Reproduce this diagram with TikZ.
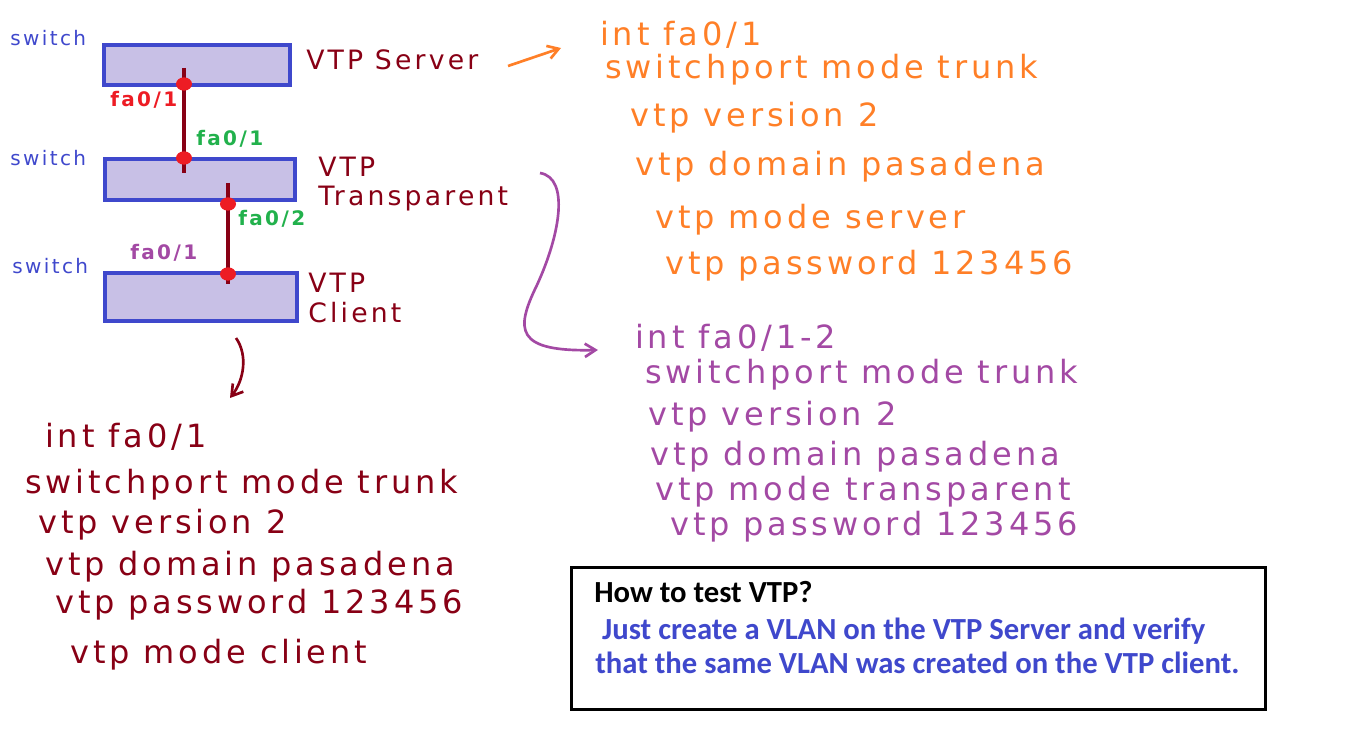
\documentclass[tikz,border=0pt]{standalone}
\usepackage{fontspec}
\usepackage{tikz}
\usetikzlibrary{positioning, arrows.meta, shapes.geometric}
\newfontfamily\hand[LetterSpace=12]{DejaVu Sans}
\newfontfamily\calib{Carlito}
\definecolor{swblue}{HTML}{3F48CC}
\definecolor{swfill}{HTML}{C8C0E6}
\definecolor{wire}{HTML}{880015}
\definecolor{port}{HTML}{ED1C24}
\definecolor{portg}{HTML}{22B14C}
\definecolor{srvc}{HTML}{FF7F27}
\definecolor{trpc}{HTML}{A349A4}
\definecolor{notec}{HTML}{3F48CC}

\begin{document}
\begin{tikzpicture}[x=0.75pt, y=-0.75pt,
    every node/.style={inner sep=0pt},
    swbox/.style={draw=swblue, fill=swfill, line width=3pt},
    swlbl/.style={font=\hand\fontsize{15}{17}\selectfont, text=swblue, anchor=west},
    portdot/.style={ellipse, fill=port, minimum width=12pt, minimum height=10pt},
    portlbl/.style={font=\hand\bfseries\fontsize{15}{17}\selectfont, anchor=west},
    role/.style={font=\hand\fontsize{20}{22}\selectfont, text=wire, anchor=west, align=left},
    cfg/.style={font=\hand\fontsize{24}{27}\selectfont, anchor=west},
    notetxt/.style={font=\calib\bfseries\fontsize{23}{26}\selectfont, anchor=west, align=left},
    link/.style={wire, line width=3pt},
    pen/.style={line width=2pt, -{Straight Barb[length=8pt, width=10pt]}}
]
  \useasboundingbox (0,0) rectangle (1354,745);

  % switches
  \node[swbox, minimum width=139pt, minimum height=30pt] (srv) at (197,65.5) {};
  \node[swbox, minimum width=143pt, minimum height=31pt] (trp) at (200,179.5) {};
  \node[swbox, minimum width=144pt, minimum height=36pt] (cli) at (200.5,297) {};

  \node[swlbl] (sw1) at (10,38) {switch};
  \node[swlbl] (sw2) at (10,158) {switch};
  \node[swlbl] (sw3) at (12,266) {switch};

  % links
  \coordinate (l1a) at (184,68);
  \coordinate (l1b) at (184,173);
  \coordinate (l2a) at (228,183);
  \coordinate (l2b) at (228,284);
  \draw[link] (l1a) -- (l1b);
  \draw[link] (l2a) -- (l2b);
  \node[portdot] (p1) at (184,84) {};
  \node[portdot] (p2) at (184,158) {};
  \node[portdot] (p3) at (228,204) {};
  \node[portdot] (p4) at (228,274) {};

  \node[portlbl, text=port] (pl1) at (110,100) {fa0/1};
  \node[portlbl, text=portg] (pl2) at (196,139) {fa0/1};
  \node[portlbl, text=portg] (pl3) at (238,219) {fa0/2};
  \node[portlbl, text=trpc] (pl4) at (130,253) {fa0/1};

  \node[role] (rsrv) at (306,60) {VTP Server};
  \node[role] (rtrp) at (318,184) {VTP\\ Transparent};
  \node[role] (rcli) at (308,298) {VTP\\ Client};

  % server config
  \node[cfg, text=srvc] (o1) at (600,35) {int fa0/1};
  \node[cfg, text=srvc] (o2) at (605,70) {switchport mode trunk};
  \node[cfg, text=srvc] (o3) at (630,118) {vtp version 2};
  \node[cfg, text=srvc] (o4) at (635,167) {vtp domain pasadena};
  \node[cfg, text=srvc] (o5) at (655,220) {vtp mode server};
  \node[cfg, text=srvc] (o6) at (665,266) {vtp password 123456};

  % transparent config
  \node[cfg, text=trpc] (t1) at (635,338) {int fa0/1-2};
  \node[cfg, text=trpc] (t2) at (645,375) {switchport mode trunk};
  \node[cfg, text=trpc] (t3) at (648,417) {vtp version 2};
  \node[cfg, text=trpc] (t4) at (650,457) {vtp domain pasadena};
  \node[cfg, text=trpc] (t5) at (655,492) {vtp mode transparent};
  \node[cfg, text=trpc] (t6) at (670,527) {vtp password 123456};

  % client config
  \node[cfg, text=wire] (c1) at (45,437) {int fa0/1};
  \node[cfg, text=wire] (c2) at (25,485) {switchport mode trunk};
  \node[cfg, text=wire] (c3) at (38,525) {vtp version 2};
  \node[cfg, text=wire] (c4) at (45,567) {vtp domain pasadena};
  \node[cfg, text=wire] (c5) at (55,605) {vtp password 123456};
  \node[cfg, text=wire] (c6) at (70,655) {vtp mode client};

  % pen arrows
  \coordinate (a1) at (508,66);
  \coordinate (a2) at (561,48);
  \draw[pen, srvc] (a1) -- (a2);
  \coordinate (b1) at (540,173);
  \coordinate (b2) at (598,350);
  \draw[pen, trpc] (b1) .. controls (570,178) and (560,235) .. (537,285)
      .. controls (515,330) and (515,352) .. (b2);
  \coordinate (d1) at (236,338);
  \coordinate (d2) at (230,398);
  \draw[pen, wire] (d1) .. controls (248,355) and (244,380) .. (d2);

  % note
  \node[draw=black, line width=2.3pt, minimum width=520pt, minimum height=107pt] (note) at (918.5,638.5) {};
  \node[notetxt] (nq) at (594,592) {How to test VTP?};
  \node[notetxt, text=notec] (na) at (595,646)
    {\ Just create a VLAN on the VTP Server and verify\\[0pt]that the same VLAN was created on the VTP client.};
\end{tikzpicture}
\end{document}
